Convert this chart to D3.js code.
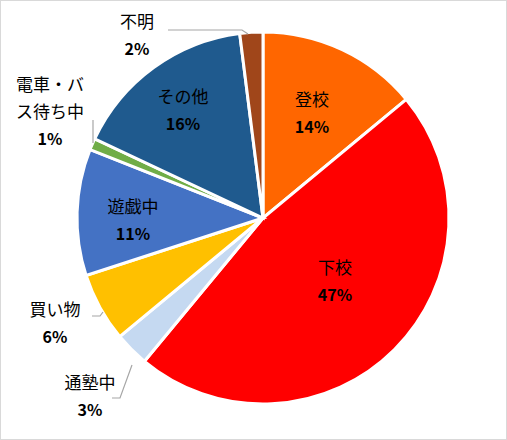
<!DOCTYPE html><html><head><meta charset="utf-8"><script src="https://cdn.jsdelivr.net/npm/d3@7"></script>
<style>body{margin:0;background:#fff}</style></head><body><svg id="c" width="507" height="440"></svg>
<script>
const categories=["登校","下校","通塾中","買い物","遊戯中","電車・バス待ち中","その他","不明"];
const values=[14,47,3,6,11,1,16,2];
const colors=["#FF6600","#FF0000","#C5D9F1","#FFC000","#4472C4","#70AD47","#1F5A8E","#A0461A"];
// label layout: lines of name, label center, leader path points
const labelLines=[["登校"],["下校"],["通塾中"],["買い物"],["遊戯中"],["電車・バ","ス待ち中"],["その他"],["不明"]];
const labelPos=[[312,100],[335,268],[90,383],[55,310],[133,207],[50,85],[183,97],[137,22]];
const leaders=[null,null,[[112,398],[120,398],[132,365]],[[92,316],[100,316],[103,312]],null,[[93,120],[93,143]],null,[[168,30],[242,30],[248,34]]];
const svg=d3.select("#c");
svg.append("rect").attr("x",0.5).attr("y",0.5).attr("width",506).attr("height",439).attr("fill","#fff").attr("stroke","#d9d9d9");
const cx=263,cy=218,r=186;
const pie=d3.pie().sort(null).value(d=>d)(values);
const arc=d3.arc().innerRadius(0).outerRadius(r);
const g=svg.append("g").attr("transform",`translate(${cx},${cy})`);
g.selectAll("path").data(pie).join("path").attr("d",arc).attr("fill",(d,i)=>colors[i]).attr("stroke","#fff").attr("stroke-width",3);
leaders.forEach(l=>{if(l)svg.append("polyline").attr("points",l.map(p=>p.join(",")).join(" ")).attr("fill","none").attr("stroke","#a6a6a6").attr("stroke-width",1.2);});
const ff="'Noto Sans CJK JP','Noto Sans',sans-serif";
categories.forEach((c,i)=>{
  const [x,y]=labelPos[i];
  const t=svg.append("text").attr("text-anchor","middle").attr("font-family",ff).attr("fill","#000");
  labelLines[i].forEach((ln,k)=>t.append("tspan").attr("x",x).attr("y",y+k*27+6).attr("font-size",17).text(ln));
  t.append("tspan").attr("x",x).attr("y",y+labelLines[i].length*27+6).attr("font-size",16).attr("font-weight","bold").text(values[i]+"%");
});
</script></body></html>
